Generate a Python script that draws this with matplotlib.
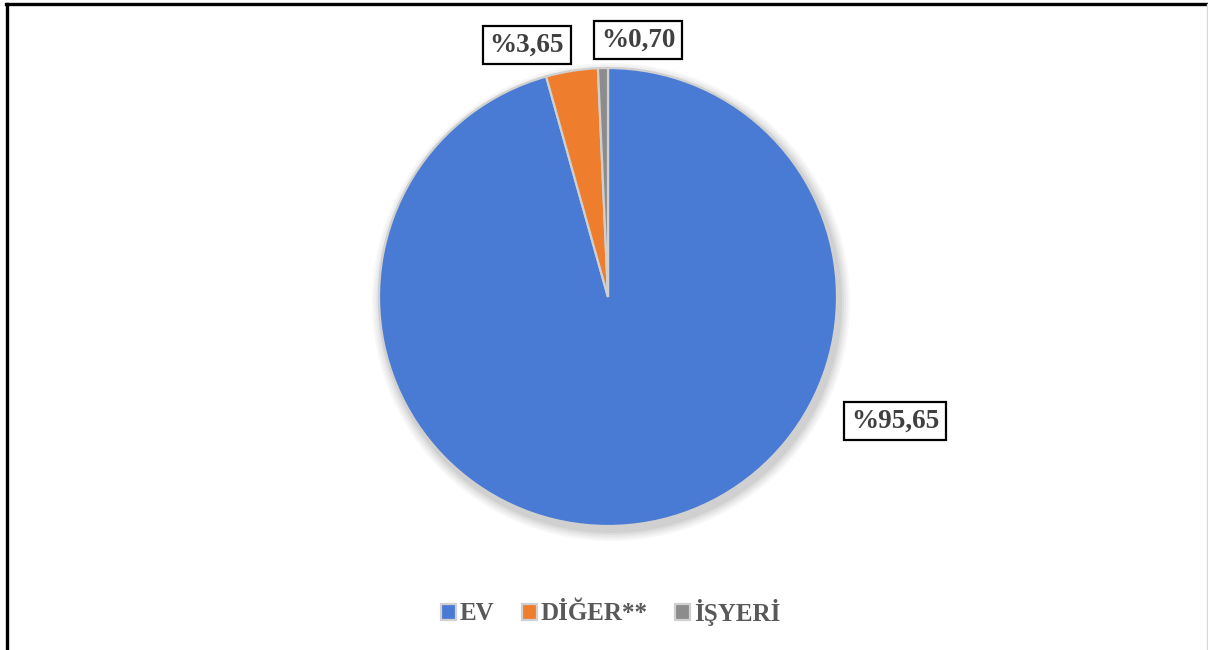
import matplotlib
matplotlib.use("Agg")
import matplotlib.pyplot as plt
from matplotlib.patches import Circle
from matplotlib.lines import Line2D

categories = ["EV", "DİĞER**", "İŞYERİ"]
values = [95.65, 3.65, 0.70]
labels = ["%95,65", "%3,65", "%0,70"]
colors = ["#4a7bd4", "#ef7d2e", "#8c8c8c"]

W, H = 1208, 650
fig = plt.figure(figsize=(W / 100, H / 100), dpi=100)
ax = fig.add_axes([0, 0, 1, 1])
ax.set_xlim(0, W)
ax.set_ylim(0, H)
ax.axis("off")

cx, cy, r = 608, H - 297, 229

# soft shadow
for i, a in enumerate([0.03, 0.03, 0.035, 0.04, 0.05]):
    ax.add_patch(Circle((cx + 3, cy - 5), r + 10 - 2 * i, color="#000000", alpha=a, lw=0, zorder=0))

wedges, _ = ax.pie(values, colors=colors, startangle=90, counterclock=False,
                   center=(cx, cy), radius=r, frame=True,
                   wedgeprops=dict(edgecolor="#d0d0d0", linewidth=1.6))
ax.set_xlim(0, W)
ax.set_ylim(0, H)
ax.set_aspect("equal")
ax.axis("off")

font = dict(family=["Liberation Serif", "DejaVu Serif"], weight="bold")
box = dict(boxstyle="square,pad=0.25", fc="white", ec="black", lw=1.6)
label_pos = [(895, H - 421), (527, H - 45), (638, H - 40)]
for (x, y), t in zip(label_pos, labels):
    ax.text(x, y, t, ha="center", va="center", fontsize=19.5, color="#404040",
            bbox=box, **font)

leg = ax.legend(wedges, categories, loc="center", bbox_to_anchor=(611 / W, 1 - 612 / H),
                ncol=3, frameon=False, handlelength=0.6, handleheight=0.6,
                handletextpad=0.15, columnspacing=1.1,
                prop=dict(family="Liberation Serif", weight="bold", size=18))
for t in leg.get_texts():
    t.set_color("#595959")

# outer frame
fig.add_artist(Line2D([7 / W, 7 / W], [0, 1 - 4 / H], color="black", lw=2.4, transform=fig.transFigure))
fig.add_artist(Line2D([6 / W, 1207 / W], [1 - 4 / H, 1 - 4 / H], color="black", lw=2.4, transform=fig.transFigure))
fig.add_artist(Line2D([1207 / W, 1207 / W], [0, 1 - 4 / H], color="#d9d9d9", lw=1, transform=fig.transFigure))

fig.savefig("out.png", dpi=100)
